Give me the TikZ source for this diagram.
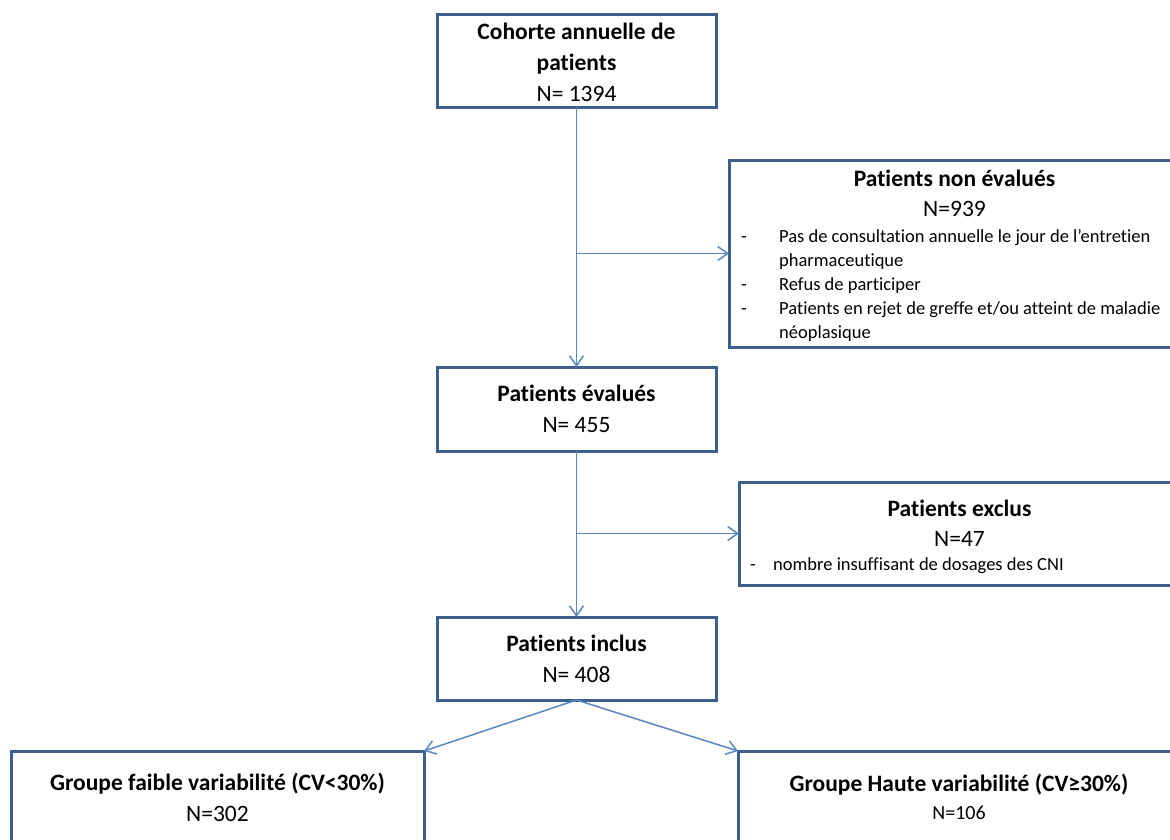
\documentclass[tikz,border=0pt]{standalone}
\usepackage{fontspec}
\setmainfont{Carlito}[Ligatures=CommonOff]
\usetikzlibrary{arrows.meta}
\definecolor{boxblue}{HTML}{3B5F8F}
\definecolor{arrowblue}{HTML}{5B87C5}
\begin{document}
\begin{tikzpicture}[x=1pt,y=-1pt,
  box/.style={draw=boxblue, line width=3pt, fill=white, rectangle, inner sep=0pt, outer sep=0pt},
  conn/.style={draw=arrowblue, line width=1.5pt, -{Straight Barb[length=10pt,width=14pt,line width=1.5pt]}},
  ttl/.style={font=\fontsize{23.5}{28}\selectfont\bfseries, anchor=base, inner sep=0pt},
  num/.style={font=\fontsize{23.5}{28}\selectfont, anchor=base, inner sep=0pt},
  numsmall/.style={font=\fontsize{20}{24}\selectfont, anchor=base, inner sep=0pt},
  itm/.style={font=\fontsize{18.5}{24}\selectfont, anchor=base west, inner sep=0pt},
]
\clip (0,0) rectangle (1170,839);
\fill[white] (0,0) rectangle (1170,839);

% boxes
\node[box, minimum width=279pt, minimum height=93pt] (cohort) at (576.5,60.5) {};
\node[box, minimum width=451pt, minimum height=187pt] (noneval) at (954.5,253.5) {};
\node[box, minimum width=279pt, minimum height=84pt] (eval) at (576.5,409) {};
\node[box, minimum width=441pt, minimum height=103pt] (excl) at (959.5,533.5) {};
\node[box, minimum width=279pt, minimum height=83pt] (incl) at (576.5,658.5) {};
\node[box, minimum width=413pt, minimum height=129pt] (low) at (217.5,815.5) {};
\node[box, minimum width=442pt, minimum height=129pt] (high) at (959,815.5) {};

% connectors
\coordinate (b1) at (576.5,253.5);
\coordinate (b2) at (576.5,533.5);
\draw[conn] (cohort) -- (eval);
\draw[conn] (b1) -- (noneval);
\draw[conn] (eval) -- (incl);
\draw[conn] (b2) -- (excl);
\draw[conn] (incl.south) -- (low.north east);
\draw[conn] (incl.south) -- (high.north west);

% texts
\node[ttl] (t1a) at (576.5,39.3) {Cohorte annuelle de};
\node[ttl] (t1b) at (576.5,70) {patients};
\node[num] (n1) at (576.5,101) {N= 1394};

\node[ttl] (t2) at (954.5,186) {Patients non évalués};
\node[num] (n2) at (954.5,216) {N=939};
\node[itm] (d2a) at (741,242.7) {-};
\node[itm] (i2a) at (779,242.7) {Pas de consultation annuelle le jour de l’entretien};
\node[itm] (i2b) at (779,266) {pharmaceutique};
\node[itm] (d2c) at (741,290) {-};
\node[itm] (i2c) at (779,290) {Refus de participer};
\node[itm] (d2d) at (741,314) {-};
\node[itm] (i2d) at (779,314) {Patients en rejet de greffe et/ou atteint de maladie};
\node[itm] (i2e) at (779,338) {néoplasique};

\node[ttl] (t3) at (576.5,401.7) {Patients évalués};
\node[num] (n3) at (576.5,432) {N= 455};

\node[ttl] (t4) at (959.5,516.7) {Patients exclus};
\node[num] (n4) at (959.5,546) {N=47};
\node[itm] (d4) at (750,570) {-};
\node[itm] (i4) at (773,570) {nombre insuffisant de dosages des CNI};

\node[ttl] (t5) at (576.5,651.7) {Patients inclus};
\node[num] (n5) at (576.5,682) {N= 408};

\node[ttl] (t6) at (217.5,790) {Groupe faible variabilité (CV<30\%)};
\node[num] (n6) at (217.5,821) {N=302};

\node[ttl] (t7) at (959,791.7) {Groupe Haute variabilité (CV≥30\%)};
\node[numsmall] (n7) at (959,819) {N=106};
\end{tikzpicture}
\end{document}
